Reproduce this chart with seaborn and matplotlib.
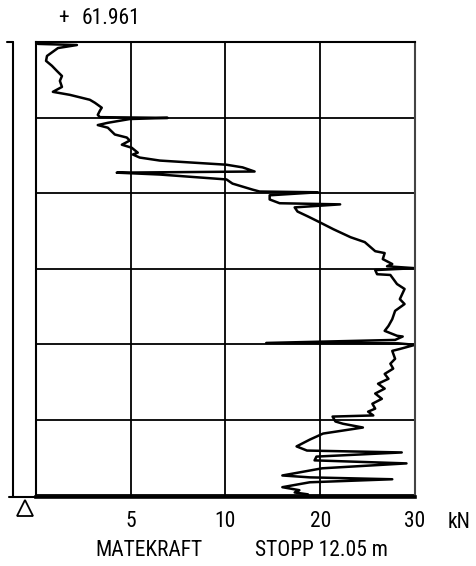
import numpy as np
import pandas as pd
import matplotlib
matplotlib.use('Agg')
import matplotlib.pyplot as plt
import seaborn as sns
from matplotlib.lines import Line2D
from matplotlib.patches import Polygon
from matplotlib import font_manager

# ---- data ----
force_kn = [0.1, 2.16, 1.16, 0.58, 0.53, 0.84, 1.11, 1.37, 1.26, 1.37,
            0.89, 1.79, 2.84, 3.11, 3.47, 3.37, 3.26, 3.37, 6.95, 4.95,
            3.79, 3.26, 3.79, 4.16, 4.79, 4.95, 4.53, 5.05, 5.37, 5.11,
            5.47, 6.53, 10.1, 11.8, 13.07, 4.26, 6.53, 10.1, 10.74, 12.86,
            13.6, 19.75, 14.66, 14.66, 15.71, 22.1, 17.3, 17.6, 18.7, 19.75,
            21.4, 23.2, 24.7, 25.8, 26.8, 26.6, 27.6, 27.05, 30.0, 25.8,
            26.0, 27.4, 28.1, 28.9, 28.4, 28.9, 27.9, 27.6, 27.2, 26.8,
            28.1, 28.7, 27.9, 14.3, 28.2, 30.0, 28.4, 27.6, 27.9, 27.4,
            27.7, 26.8, 27.2, 26.1, 26.8, 25.8, 26.5, 25.5, 25.8, 25.05,
            25.6, 21.3, 21.6, 22.4, 24.5, 20.3, 18.9, 17.5, 18.6, 28.6,
            19.6, 19.4, 29.1, 20.2, 16.0, 18.9, 27.6, 18.9, 16.0, 17.8,
            17.3, 18.7]
depth_m = [0.05, 0.08, 0.16, 0.37, 0.50, 0.63, 0.77, 0.90, 1.03, 1.19,
           1.32, 1.40, 1.53, 1.61, 1.74, 1.82, 1.93, 1.99, 2.01, 2.04,
           2.14, 2.20, 2.27, 2.45, 2.53, 2.61, 2.72, 2.80, 2.93, 2.98,
           3.06, 3.14, 3.25, 3.32, 3.43, 3.46, 3.51, 3.64, 3.75, 3.91,
           3.96, 3.98, 4.06, 4.17, 4.27, 4.30, 4.38, 4.49, 4.62, 4.75,
           4.96, 5.17, 5.30, 5.54, 5.59, 5.75, 5.88, 5.94, 5.99, 6.04,
           6.15, 6.17, 6.41, 6.54, 6.81, 6.94, 7.12, 7.34, 7.52, 7.65,
           7.78, 7.80, 7.89, 7.97, 7.98, 8.02, 8.13, 8.18, 8.39, 8.52,
           8.65, 8.79, 8.92, 9.05, 9.18, 9.31, 9.45, 9.58, 9.71, 9.79,
           9.89, 9.92, 10.05, 10.11, 10.21, 10.37, 10.53, 10.71, 10.82, 10.87,
           10.98, 11.08, 11.16, 11.29, 11.48, 11.53, 11.58, 11.66, 11.79, 11.87,
           11.93, 11.98]
x_ticks = [5, 10, 20, 30]
x_tick_labels = ['5', '10', '20', '30']
scale_breaks = [0, 5, 10, 20, 30]
depth_grid = [2, 4, 6, 8, 10, 12]
stop_depth = 12.05
elevation_sign = '+'
elevation_value = '61.961'
x_unit = 'kN'
x_title = 'MATEKRAFT'
stop_label = 'STOPP 12.05 m'

df = pd.DataFrame({'force': force_kn, 'depth': depth_m})

sns.set_theme(style='white')
installed = {f.name for f in font_manager.fontManager.ttflist}
narrow = [n for n in ['Liberation Sans Narrow', 'DejaVu Sans Condensed',
                      'Roboto Condensed', 'Open Sans Condensed'] if n in installed]
plt.rcParams['font.family'] = narrow + ['DejaVu Sans']
plt.rcParams['text.color'] = 'black'
plt.rcParams['xtick.color'] = 'black'
FS = 15.5 if narrow else 14
STRETCH = 'condensed'

W, H = 477, 566
fig = plt.figure(figsize=(W / 100, H / 100), dpi=100)
ax = fig.add_axes([36 / W, (H - 497) / H, (415 - 36) / W, (497 - 42) / H])

seg = list(range(len(scale_breaks)))
fwd = lambda v: np.interp(v, scale_breaks, seg)
inv = lambda v: np.interp(v, seg, scale_breaks)
ax.set_xscale('function', functions=(fwd, inv))

sns.lineplot(data=df, x='force', y='depth', sort=False, estimator=None,
             color='black', lw=1.8, ax=ax)

ax.set_xlim(0, 30)
ax.set_ylim(stop_depth, 0)

for xv in x_ticks:
    ax.axvline(xv, color='black', lw=1.3, zorder=1)
for yv in depth_grid:
    ax.axhline(yv, color='black', lw=1.3, zorder=1)

for s in ['top', 'left']:
    ax.spines[s].set_color('black')
    ax.spines[s].set_linewidth(1.5)
ax.spines['right'].set_color('#444444')
ax.spines['right'].set_linewidth(1.5)
ax.spines['bottom'].set_color('black')
ax.spines['bottom'].set_linewidth(2.6)

ax.set_xticks(x_ticks)
ax.set_xticklabels(x_tick_labels, fontsize=FS, color='black', fontstretch=STRETCH)
ax.tick_params(axis='x', length=0, pad=10)
ax.set_yticks([])
ax.set_xlabel('')
ax.set_ylabel('')
ax.xaxis.set_minor_locator(matplotlib.ticker.NullLocator())

# figure-level decorations (pixel coords -> figure fraction)
def P(x, y):
    return (x / W, 1 - y / H)

def fline(xs, ys, lw=1.5):
    fig.add_artist(Line2D([x / W for x in xs], [1 - y / H for y in ys],
                          color='black', lw=lw, transform=fig.transFigure))

fline([13, 13], [42, 497])
fline([7, 13], [42, 42])
fline([9, 36], [497, 497])
fig.add_artist(Polygon([P(25, 500), P(17, 516), P(33, 516)], closed=True,
                       fill=False, edgecolor='black', lw=1.3,
                       transform=fig.transFigure))

kw = dict(fontsize=FS, color='black', fontstretch=STRETCH, va='center')
fig.text(58 / W, 1 - 18 / H, elevation_sign, ha='left', **kw)
fig.text(82 / W, 1 - 18 / H, elevation_value, ha='left', **kw)
fig.text(459 / W, 1 - 522 / H, x_unit, ha='center', **kw)
fig.text(149 / W, 1 - 550 / H, x_title, ha='center', **kw)
fig.text(255 / W, 1 - 550 / H, stop_label, ha='left', **kw)

fig.savefig('out.png', dpi=100, facecolor='white')
